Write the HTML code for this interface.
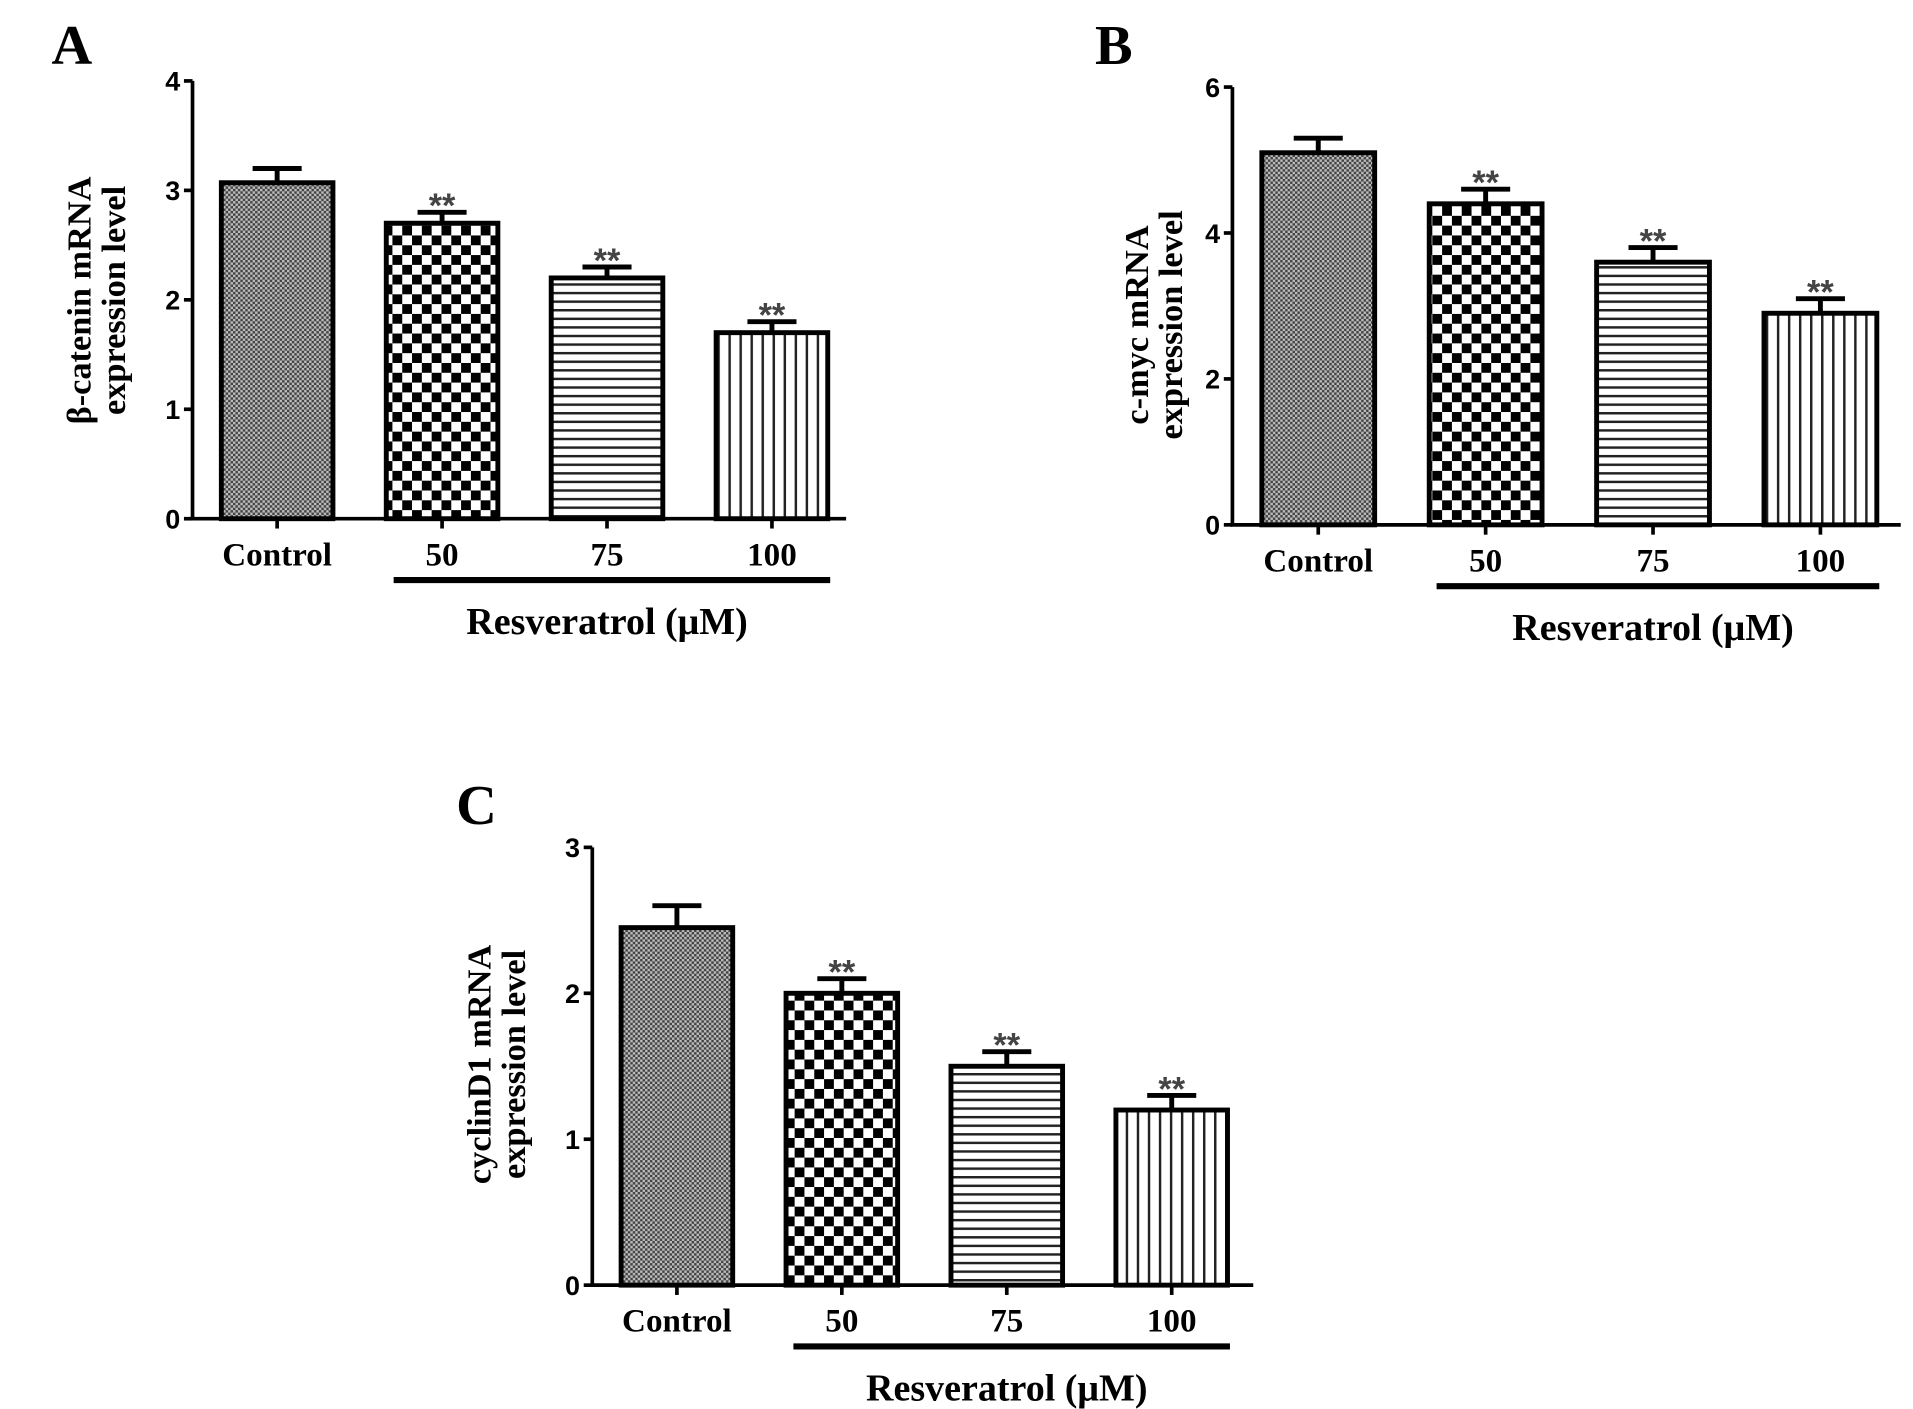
<!DOCTYPE html>
<html><head><meta charset="utf-8"><style>
html,body{margin:0;padding:0;background:#fff}
svg{display:block}
</style></head><body>
<svg id="fig" width="1913" height="1409" viewBox="0 0 1560 1149" preserveAspectRatio="none" xmlns="http://www.w3.org/2000/svg">
<defs>
<pattern id="pCtrl" width="4" height="4" patternUnits="userSpaceOnUse"><rect width="4" height="4" fill="#bbb"/><rect width="2" height="2" fill="#444"/><rect x="2" y="2" width="2" height="2" fill="#444"/></pattern>
<pattern id="p50" width="16" height="16" patternUnits="userSpaceOnUse"><rect width="16" height="16" fill="#fff"/><rect width="8" height="8" fill="#000"/><rect x="8" y="8" width="8" height="8" fill="#000"/></pattern>
<pattern id="p75" width="8" height="7" patternUnits="userSpaceOnUse"><rect width="8" height="7" fill="#fff"/><rect y="0" width="8" height="2" fill="#222"/></pattern>
<pattern id="p100" width="9" height="8" patternUnits="userSpaceOnUse"><rect width="9" height="8" fill="#fff"/><rect x="0" width="2" height="8" fill="#222"/></pattern>
</defs>
</svg>
<script>
const categories = ["Control","50","75","100"];
const valuesA = [3.07, 2.7, 2.2, 1.7];
const errorsA = [0.13, 0.1, 0.1, 0.1];
const valuesB = [5.1, 4.4, 3.6, 2.9];
const errorsB = [0.2, 0.2, 0.2, 0.2];
const valuesC = [2.45, 2.0, 1.5, 1.2];
const errorsC = [0.15, 0.1, 0.1, 0.1];
const ticksA = [0,1,2,3,4];
const ticksB = [0,2,4,6];
const ticksC = [0,1,2,3];
const sigA = [false,true,true,true];
const sigB = [false,true,true,true];
const sigC = [false,true,true,true];

const NS="http://www.w3.org/2000/svg";
const svg=document.getElementById('fig');
const fills=["url(#pCtrl)","url(#p50)","url(#p75)","url(#p100)"];
function mk(tag,attrs,parent){const e=document.createElementNS(NS,tag);for(const k in attrs)e.setAttribute(k,attrs[k]);(parent||svg).appendChild(e);return e;}

function panel(cfg,values,errors,ticks,sig){
  const g=mk('g',{});
  
  
  const ymax=ticks[ticks.length-1];
  const y=v=>cfg.y0-(cfg.y0-cfg.yTop)*v/ymax;
  const bw=cfg.bw, step=cfg.step;
  const xc=i=>cfg.x0+cfg.first+i*step;
  const L=mk('text',{x:cfg.lx,y:cfg.ly,'font-family':'Liberation Serif, serif','font-weight':'bold','font-size':46},g);
  L.textContent=cfg.id.toUpperCase();
  
  
  values.forEach((v,i)=>{
    const x=xc(i);
    const r=mk('rect',{x:x-bw/2,y:y(v),width:bw,height:cfg.y0-y(v),fill:fills[i],stroke:'#000','stroke-width':4},g);
    
    
    const e=mk('path',{d:`M${x} ${y(v)}V${y(v+errors[i])}M${x-20} ${y(v+errors[i])}H${x+20}`,stroke:'#000','stroke-width':4,fill:'none'},g);
    
    
    if(sig[i]){
      const s=mk('text',{x:x,y:y(v+errors[i])+4,'text-anchor':'middle','font-family':'Liberation Sans, sans-serif','font-weight':'bold','font-size':28,fill:'#444'},g);
      s.textContent='**';
      
      
    }
    const t=mk('text',{x:x,y:cfg.y0+38,'text-anchor':'middle','font-family':'Liberation Serif, serif','font-weight':'bold','font-size':27},g);
    t.textContent=categories[i];
    
    
    const tk=mk('line',{x1:x,x2:x,y1:cfg.y0,y2:cfg.y0+8,stroke:'#000','stroke-width':3},g);
    
    
  });
  const ax=mk('path',{d:`M${cfg.x0} ${cfg.yTop}V${cfg.y0}H${cfg.xEnd}`,stroke:'#000','stroke-width':3,fill:'none'},g);
  
  
  ticks.forEach(t=>{
    const tl=mk('line',{x1:cfg.x0-7,x2:cfg.x0,y1:y(t),y2:y(t),stroke:'#000','stroke-width':3},g);
    
    
    const tx=mk('text',{x:cfg.x0-10,y:y(t)+8,'text-anchor':'end','font-family':'Liberation Sans, sans-serif','font-weight':'bold','font-size':22},g);
    tx.textContent=t;
    
    
  });
  const b=mk('line',{x1:xc(1)-bw/2+6,x2:xc(3)+bw/2+2,y1:cfg.y0+50,y2:cfg.y0+50,stroke:'#000','stroke-width':5},g);
  
  
  const rl=mk('text',{x:(xc(1)+xc(3))/2,y:cfg.y0+94,'text-anchor':'middle','font-family':'Liberation Serif, serif','font-weight':'bold','font-size':31},g);
  rl.textContent='Resveratrol (μM)';
  
  
  const yt=mk('text',{transform:`translate(${cfg.tx},${cfg.ty}) rotate(-90)`,'text-anchor':'middle','font-family':'Liberation Serif, serif','font-weight':'bold','font-size':28},g);
  
  
  const t1=mk('tspan',{x:0,y:0},yt);t1.textContent=cfg.t1;
  const t2=mk('tspan',{x:0,y:28},yt);t2.textContent='expression level';
}

panel({id:'a',x0:157,xEnd:690,y0:423,yTop:66,first:69,step:134.5,bw:91,lx:42,ly:52,tx:74,ty:245,t1:'β-catenin mRNA'},valuesA,errorsA,ticksA,sigA);
panel({id:'b',x0:1005,xEnd:1550,y0:428,yTop:71,first:70,step:136.5,bw:92,lx:893,ly:52,tx:936,ty:265,t1:'c-myc mRNA'},valuesB,errorsB,ticksB,sigB);
panel({id:'c',x0:483,xEnd:1022,y0:1048,yTop:691,first:69,step:134.5,bw:91,lx:372,ly:672,tx:400,ty:868,t1:'cyclinD1 mRNA'},valuesC,errorsC,ticksC,sigC);
</script>
</body></html>
